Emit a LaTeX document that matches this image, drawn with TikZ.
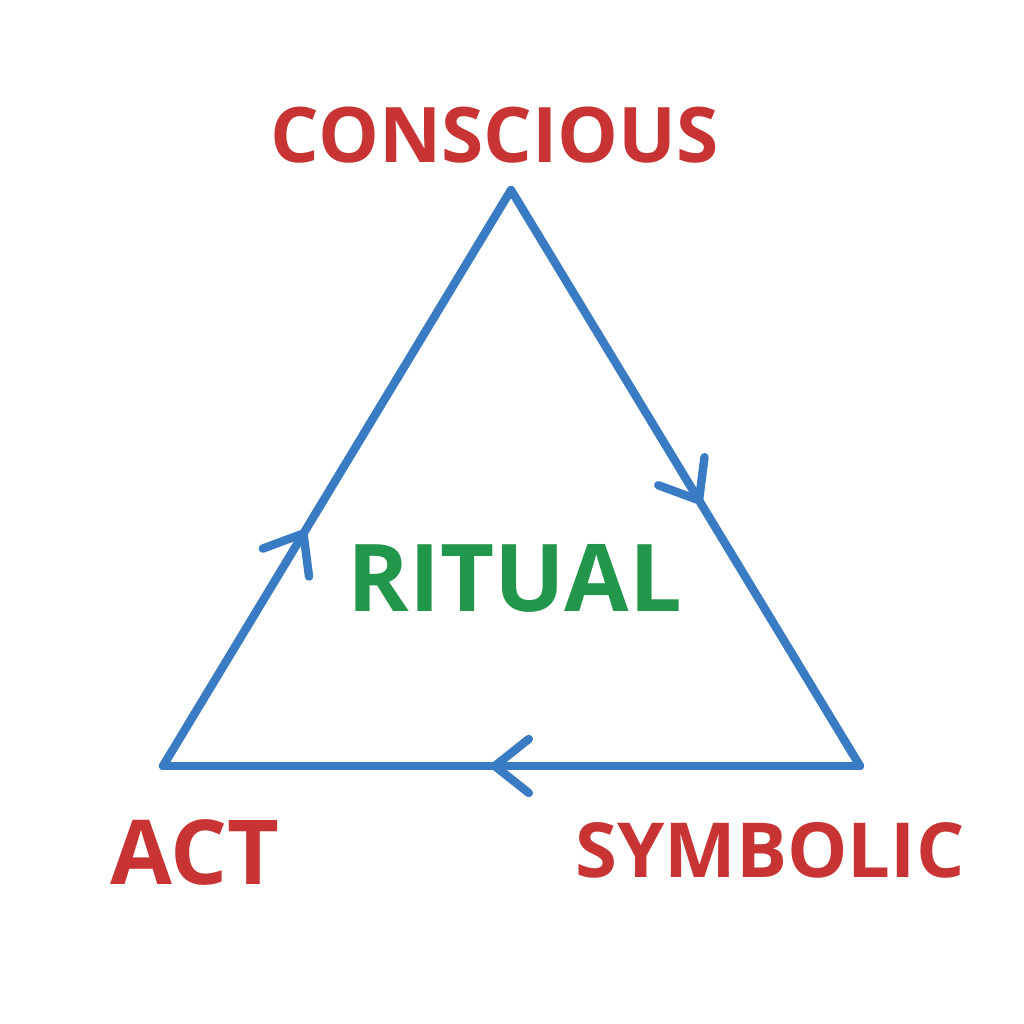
\documentclass[tikz,border=0pt]{standalone}
\usepackage{fontspec}
\setmainfont{Open Sans}
\usetikzlibrary{arrows.meta,decorations.markings}
\definecolor{tred}{RGB}{200,52,52}
\definecolor{tblue}{RGB}{58,124,196}
\definecolor{tgreen}{RGB}{34,150,74}
\begin{document}
\begin{tikzpicture}[x=0.01cm,y=-0.01cm,
  edge/.style={draw=tblue,line width=2.4pt,line cap=round,
    postaction={decorate},decoration={markings,
      mark=at position #1 with {\arrow[tblue,line width=2.4pt]{Straight Barb[length=3.4mm,width=5.4mm,round]}}}},
  lab/.style={text=tred,font=\bfseries\fontsize{#1}{28}\selectfont,inner sep=0pt}]
\useasboundingbox (0,0) rectangle (1024,1024);
\coordinate (T) at (511,190);
\coordinate (L) at (163,766);
\coordinate (R) at (860,766);
\draw[edge=0.545] (T) -- (R);
\draw[edge=0.53] (R) -- (L);
\draw[edge=0.41] (L) -- (T);
\node[lab=21.8] (c) at (495,135) {CONSCIOUS};
\node[lab=25.5] (a) at (195,852) {ACT};
\node[lab=21.6] (s) at (770,850) {SYMBOLIC};
\node[text=tgreen,font=\bfseries\fontsize{26.6}{30}\selectfont,inner sep=0pt] (r) at (515,578) {RITUAL};
\end{tikzpicture}
\end{document}
